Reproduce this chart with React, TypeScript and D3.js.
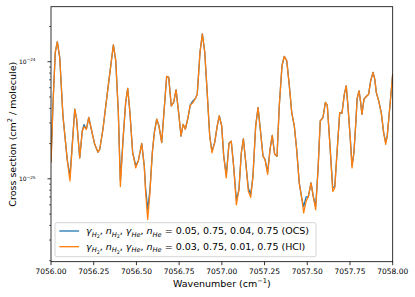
import React from "react";
import { scaleLinear, scaleLog, line } from "d3";

// wavenumber grid (cm^-1)
const wavenumber = [
  7056.0, 7056.012, 7056.025, 7056.037, 7056.051, 7056.07, 7056.095, 7056.111, 7056.139, 7056.15,
  7056.168, 7056.183, 7056.193, 7056.207, 7056.221, 7056.236, 7056.256, 7056.275, 7056.285, 7056.304,
  7056.335, 7056.365, 7056.379, 7056.394, 7056.406, 7056.423, 7056.437, 7056.449, 7056.462, 7056.478,
  7056.496, 7056.511, 7056.531, 7056.546, 7056.554, 7056.566, 7056.579, 7056.593, 7056.605, 7056.619,
  7056.632, 7056.648, 7056.664, 7056.677, 7056.689, 7056.704, 7056.718, 7056.732, 7056.747, 7056.761,
  7056.773, 7056.786, 7056.802, 7056.815, 7056.829, 7056.845, 7056.856, 7056.872, 7056.886, 7056.9,
  7056.913, 7056.929, 7056.942, 7056.958, 7056.973, 7056.985, 7056.999, 7057.011, 7057.026, 7057.042,
  7057.055, 7057.069, 7057.085, 7057.1, 7057.114, 7057.126, 7057.14, 7057.155, 7057.169, 7057.182,
  7057.198, 7057.212, 7057.225, 7057.241, 7057.253, 7057.268, 7057.282, 7057.295, 7057.309, 7057.323,
  7057.336, 7057.352, 7057.365, 7057.38, 7057.395, 7057.409, 7057.424, 7057.438, 7057.453, 7057.469,
  7057.479, 7057.493, 7057.506, 7057.522, 7057.535, 7057.549, 7057.563, 7057.576, 7057.592, 7057.606,
  7057.617, 7057.633, 7057.649, 7057.661, 7057.674, 7057.69, 7057.703, 7057.717, 7057.728, 7057.738,
  7057.752, 7057.762, 7057.773, 7057.783, 7057.792, 7057.803, 7057.81, 7057.82, 7057.832, 7057.845,
  7057.859, 7057.871, 7057.885, 7057.895, 7057.904, 7057.918, 7057.933, 7057.947, 7057.959, 7057.968,
  7057.982, 7058.0,
];

// cross section, OCS broadening parameters (blue)
const sigmaOCS = [
  1.38e-25, 4.49e-25, 1.2e-24, 1.48e-24, 1.09e-24, 3.44e-25, 1.46e-25, 1.05e-25, 3.93e-25, 3.23e-25,
  1.51e-25, 2.56e-25, 2.9e-25, 2.65e-25, 3.34e-25, 2.65e-25, 1.97e-25, 1.69e-25, 1.78e-25, 2.65e-25,
  6.22e-25, 1.39e-24, 1.02e-24, 3.7e-25, 9.6e-26, 2.32e-25, 4.49e-25, 5.91e-25, 3.68e-25, 1.67e-25,
  1.3e-25, 1.42e-25, 2.01e-25, 1.28e-25, 8.2e-26, 5.5e-26, 8.0e-26, 1.67e-25, 2.49e-25, 3.23e-25,
  2.83e-25, 2.04e-25, 4.19e-25, 7.5e-25, 7.35e-25, 4.19e-25, 4.49e-25, 5.75e-25, 3.68e-25, 2.32e-25,
  2.92e-25, 2.65e-25, 3.34e-25, 4.26e-25, 4.6e-25, 4.85e-25, 5.28e-25, 1.2e-24, 1.73e-24, 1.2e-24,
  5.83e-25, 2.32e-25, 1.72e-25, 2.04e-25, 2.83e-25, 3.44e-25, 2.83e-25, 1.56e-25, 1.08e-25, 2.01e-25,
  2.1e-25, 1.28e-25, 6.6e-26, 8.1e-26, 1.67e-25, 2.2e-25, 1.37e-25, 8.3e-26, 7.4e-26, 1.05e-25,
  2.83e-25, 4.06e-25, 2.65e-25, 1.56e-25, 1.46e-25, 1.14e-25, 1.78e-25, 2.35e-25, 1.62e-25, 1.56e-25,
  4.19e-25, 9.24e-25, 1.11e-24, 1.02e-24, 6.22e-25, 3.68e-25, 2.83e-25, 1.78e-25, 9.24e-26, 6.64e-26,
  5.8e-26, 7.0e-26, 7.01e-26, 9.24e-26, 7.09e-26, 5.8e-26, 1.2e-25, 3.12e-25, 3.34e-25, 4.49e-25,
  4.26e-25, 1.91e-25, 8.4e-26, 8.6e-26, 1.67e-25, 3.68e-25, 3.63e-25, 5.28e-25, 6.22e-25, 4.19e-25,
  2.17e-25, 1.3e-25, 1.67e-25, 2.83e-25, 4.85e-25, 5.64e-25, 4.79e-25, 3.56e-25, 4.79e-25, 5.05e-25,
  5.28e-25, 6.87e-25, 8.11e-25, 7.11e-25, 5.47e-25, 4.63e-25, 3.68e-25, 2.48e-25, 2.05e-25, 2.32e-25,
  3.93e-25, 7.85e-25,
];

// cross section, HCl broadening parameters (orange)
const sigmaHCl = [
  1.38e-25, 4.49e-25, 1.2e-24, 1.48e-24, 1.09e-24, 3.44e-25, 1.46e-25, 9.6e-26, 3.93e-25, 3.23e-25,
  1.51e-25, 2.56e-25, 2.79e-25, 2.65e-25, 3.34e-25, 2.65e-25, 1.97e-25, 1.69e-25, 1.78e-25, 2.65e-25,
  6.22e-25, 1.39e-24, 1.02e-24, 3.7e-25, 8.6e-26, 2.32e-25, 4.49e-25, 5.91e-25, 3.68e-25, 1.67e-25,
  1.24e-25, 1.42e-25, 2.01e-25, 1.28e-25, 7.6e-26, 4.5e-26, 7.59e-26, 1.67e-25, 2.49e-25, 3.23e-25,
  2.83e-25, 2.04e-25, 4.19e-25, 7.5e-25, 7.35e-25, 4.19e-25, 4.49e-25, 5.75e-25, 3.68e-25, 2.32e-25,
  2.92e-25, 2.65e-25, 3.34e-25, 4.26e-25, 4.43e-25, 4.85e-25, 5.28e-25, 1.2e-24, 1.73e-24, 1.2e-24,
  5.83e-25, 2.32e-25, 1.67e-25, 2.04e-25, 2.83e-25, 3.44e-25, 2.83e-25, 1.56e-25, 1.02e-25, 2.01e-25,
  2.1e-25, 1.28e-25, 6.0e-26, 8.1e-26, 1.67e-25, 2.2e-25, 1.37e-25, 7.83e-26, 6.95e-26, 1.05e-25,
  2.83e-25, 4.06e-25, 2.65e-25, 1.56e-25, 1.46e-25, 1.09e-25, 1.78e-25, 2.35e-25, 1.62e-25, 1.56e-25,
  4.19e-25, 9.24e-25, 1.11e-24, 1.02e-24, 6.22e-25, 3.68e-25, 2.83e-25, 1.78e-25, 9.24e-26, 6.64e-26,
  5.11e-26, 6.43e-26, 7.01e-26, 9.24e-26, 7.09e-26, 5.45e-26, 1.2e-25, 3.12e-25, 3.34e-25, 4.49e-25,
  4.26e-25, 1.91e-25, 7.8e-26, 8.37e-26, 1.67e-25, 3.68e-25, 3.63e-25, 5.28e-25, 6.22e-25, 4.19e-25,
  2.17e-25, 1.24e-25, 1.67e-25, 2.83e-25, 4.85e-25, 5.64e-25, 4.79e-25, 3.56e-25, 4.79e-25, 5.05e-25,
  5.28e-25, 6.87e-25, 8.11e-25, 7.11e-25, 5.47e-25, 4.63e-25, 3.68e-25, 2.48e-25, 1.97e-25, 2.32e-25,
  3.93e-25, 7.85e-25,
];

const xTicks = [7056.0, 7056.25, 7056.5, 7056.75, 7057.0, 7057.25, 7057.5, 7057.75, 7058.0];
const yMajor = [1e-25, 1e-24];
const yMajorExp = ["25", "24"];
const legendValues = [
  "= 0.05, 0.75, 0.04, 0.75 (OCS)",
  "= 0.03, 0.75, 0.01, 0.75 (HCl)",
];
const colors = ["#1f77b4", "#ff7f0e"];

const W = 415;
const H = 297;
const m = { left: 51, right: 22.3, top: 6.7, bottom: 35.3 };
const FONT = "DejaVu Sans, sans-serif";

// little mathtext helper: [text, italic, level]
type Seg = [string, boolean, number];
const mathLabel: Seg[] = [
  ["γ", true, 0], ["H", true, 1], ["2", false, 2], [", ", false, 0],
  ["n", true, 0], ["H", true, 1], ["2", false, 2], [", ", false, 0],
  ["γ", true, 0], ["He", true, 1], [", ", false, 0],
  ["n", true, 0], ["He", true, 1], [" ", false, 0],
];

function MathText({ x, y, segs, tail, size }: { x: number; y: number; segs: Seg[]; tail: string; size: number }) {
  const off = [0, size * 0.25, size * 0.38];
  const sz = [size, size * 0.7, size * 0.5];
  let prev = 0;
  return (
    <text x={x} y={y} fontSize={size} fontFamily={FONT} fill="#000">
      {segs.map(([t, it, lv], i) => {
        const dy = off[lv] - prev;
        prev = off[lv];
        return (
          <tspan key={i} dy={dy} fontSize={sz[lv]} fontStyle={it ? "italic" : "normal"}>
            {t}
          </tspan>
        );
      })}
      <tspan dy={-prev}>{tail}</tspan>
    </text>
  );
}

export default function App() {
  const x = scaleLinear().domain([7056, 7058]).range([m.left, W - m.right]);
  const y = scaleLog().domain([1.96e-26, 2.95e-24]).range([H - m.bottom, m.top]);

  const minors: number[] = [];
  [1e-26, 1e-25, 1e-24].forEach((d) => {
    for (let k = 2; k <= 9; k++) {
      const v = k * d;
      if (v >= y.domain()[0] && v <= y.domain()[1]) minors.push(v);
    }
  });

  const series = [sigmaOCS, sigmaHCl];
  const gen = (vals: number[]) =>
    line<number>()
      .x((_, i) => x(wavenumber[i]))
      .y((d) => y(d))(vals) || "";

  const x0 = m.left;
  const x1 = W - m.right;
  const y0 = m.top;
  const y1 = H - m.bottom;

  return (
    <svg width={W} height={H} style={{ position: "absolute", left: 0, top: 0, background: "#fff" }}>
      <defs>
        <clipPath id="plot">
          <rect x={x0} y={y0} width={x1 - x0} height={y1 - y0} />
        </clipPath>
      </defs>
      <g clipPath="url(#plot)">
        {series.map((s, i) => (
          <path key={i} d={gen(s)} fill="none" stroke={colors[i]} strokeWidth={1.3} strokeLinejoin="round" />
        ))}
      </g>

      {/* legend */}
      <rect x={55} y={222.7} width={261} height={34} rx={2} fill="#fff" fillOpacity={0.8} stroke="#ccc" strokeWidth={0.8} />
      {legendValues.map((t, i) => {
        const ly = 231 + i * 15.7;
        return (
          <g key={i}>
            <line x1={59.3} x2={79} y1={ly} y2={ly} stroke={colors[i]} strokeWidth={1.3} />
            <MathText x={86} y={ly + 3.4} segs={mathLabel} tail={t} size={9.5} />
          </g>
        );
      })}

      {/* frame */}
      <rect x={x0} y={y0} width={x1 - x0} height={y1 - y0} fill="none" stroke="#000" strokeWidth={0.8} />

      {/* x axis */}
      {xTicks.map((t) => (
        <g key={t}>
          <line x1={x(t)} x2={x(t)} y1={y1} y2={y1 + 3.5} stroke="#000" strokeWidth={0.8} />
          <text x={x(t)} y={274} fontSize={7.5} fontFamily={FONT} textAnchor="middle">
            {t.toFixed(2)}
          </text>
        </g>
      ))}
      <text x={(x0 + x1) / 2} y={286.5} fontSize={9.5} fontFamily={FONT} textAnchor="middle">
        Wavenumber (cm<tspan fontSize={6.6} dy={-3.8}>−1</tspan><tspan dy={3.8}>)</tspan>
      </text>

      {/* y axis */}
      {minors.map((v) => (
        <line key={v} x1={x0 - 2} x2={x0} y1={y(v)} y2={y(v)} stroke="#000" strokeWidth={0.6} />
      ))}
      {yMajor.map((v, i) => (
        <g key={v}>
          <line x1={x0 - 3.5} x2={x0} y1={y(v)} y2={y(v)} stroke="#000" strokeWidth={0.8} />
          <text x={35.5} y={y(v) + 2.3} fontSize={6} fontFamily={FONT} textAnchor="end">
            10<tspan fontSize={4.2} dy={-2.6}>−{yMajorExp[i]}</tspan>
          </text>
        </g>
      ))}
      <text
        transform={`translate(16,${(y0 + y1) / 2}) rotate(-90)`}
        fontSize={9.5}
        fontFamily={FONT}
        textAnchor="middle"
      >
        Cross section (cm<tspan fontSize={6.6} dy={-3.8}>2</tspan><tspan dy={3.8}> / molecule)</tspan>
      </text>
    </svg>
  );
}
